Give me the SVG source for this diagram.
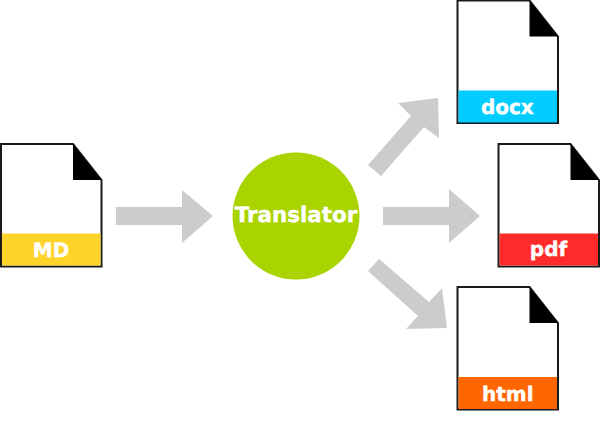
<svg xmlns="http://www.w3.org/2000/svg" width="600" height="440" viewBox="0 0 600 440">
<style>
.page{fill:#fff;stroke:#1a1a1a;stroke-width:2}
.fold{fill:#000}
.arrow{fill:#ccc}
text{font-family:"DejaVu Sans",sans-serif;font-weight:700;font-size:20px;fill:#fff;stroke:#fff;stroke-width:.4px;text-anchor:middle;text-rendering:geometricPrecision}
</style>
<defs>
<g id="doc">
<path class="page" d="M0 0H72L100.500 36V122.500H0Z"/>
<path class="fold" d="M72 0L100.500 36H72Z"/>
</g>
</defs>
<rect width="600" height="440" fill="#fff"/>
<g id="connectors">
<path class="arrow" d="M116 207H182V190L213 216L182 243V225H116Z"/>
<path class="arrow" d="M383 207H449V189L480 216L449 243V225H383Z"/>
<path class="arrow" d="M368 165L411 116L398 103L438 98L439 138L424 127L381 176Z"/>
<path class="arrow" d="M379 259L429 302L442 288L447 328L406 329L418 316L368 271Z"/>
</g>
<g id="node-md">
<use href="#doc" x="1" y="144"/>
<rect x="2" y="233.500" width="98.500" height="32" fill="#ffd42a"/>
<text x="51" y="257.300">MD</text>
</g>
<g id="node-translator">
<circle cx="296" cy="216" r="63.500" fill="#aad400"/>
<text x="296" y="222.300" style="font-size:21.400px">Translator</text>
</g>
<g id="node-docx">
<use href="#doc" x="457.500" y="0.500"/>
<rect x="458.500" y="90.500" width="98.500" height="32" fill="#0cf"/>
<text x="507.300" y="114.300">docx</text>
</g>
<g id="node-pdf">
<use href="#doc" x="498.500" y="144"/>
<rect x="499.500" y="233.500" width="98.500" height="32" fill="#ff2a2a"/>
<text x="548.500" y="256">pdf</text>
</g>
<g id="node-html">
<use href="#doc" x="457.500" y="287"/>
<rect x="458.500" y="377" width="98.500" height="32" fill="#f60"/>
<text x="507.800" y="400.500">html</text>
</g>
</svg>
